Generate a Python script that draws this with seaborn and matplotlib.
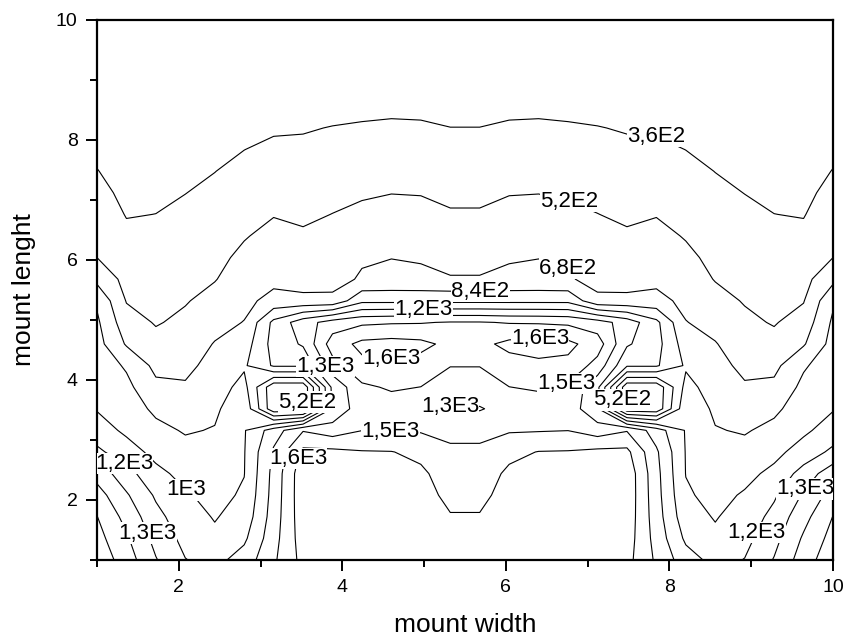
import numpy as np
import matplotlib
matplotlib.use("Agg")
import matplotlib.pyplot as plt
import seaborn as sns
from matplotlib.ticker import MultipleLocator

sns.set_theme(style="ticks")
plt.rcParams['font.family'] = ['Liberation Sans', 'DejaVu Sans']

# measuring grid, step 0.36
x_grid = [1.00, 1.36, 1.72, 2.08, 2.44, 2.80, 3.16, 3.52, 3.88, 4.24, 4.60, 4.96, 5.32,
          5.68, 6.04, 6.40, 6.76, 7.12, 7.48, 7.84, 8.20, 8.56, 8.92, 9.28, 9.64, 10.00]
y_grid = x_grid

# left half of the mount, one list per x column, values from y=1 (bottom) to y=10 (top)
# the right half is the mirror image
z_x100 = [1750, 1697, 1644, 1549, 1419, 1195, 1070, 990, 959, 928, 898, 867, 816,
          638, 520, 481, 443, 404, 365, 327, 290, 252, 214, 176, 138, 100]
z_x136 = [1560, 1502, 1427, 1339, 1223, 1067, 971, 926, 880, 821, 664, 584, 512,
          472, 431, 390, 353, 325, 297, 269, 241, 212, 184, 156, 128, 100]
z_x172 = [1330, 1269, 1208, 1138, 1039, 956, 884, 806, 717, 638, 566, 509, 480,
          450, 420, 391, 361, 332, 303, 274, 245, 216, 187, 158, 129, 100]
z_x208 = [1165, 1112, 1064, 1016, 956, 891, 826, 761, 696, 645, 598, 551, 510,
          480, 449, 419, 389, 358, 326, 294, 261, 229, 197, 165, 132, 100]
z_x244 = [1110, 1030, 990, 955, 920, 884, 849, 810, 769, 728, 688, 630, 568,
          513, 482, 451, 420, 389, 358, 321, 284, 247, 211, 174, 137, 100]
z_x280 = [1230, 1130, 1060, 1020, 996, 992, 988, 960, 890, 820, 760, 685, 640,
          595, 553, 510, 472, 435, 397, 359, 316, 273, 229, 186, 143, 100]
z_x316 = [1454, 1420, 1395, 1380, 1370, 1345, 1240, 400, 400, 1020, 1060, 1040, 730,
          640, 612, 562, 513, 471, 429, 387, 343, 294, 246, 197, 149, 100]
z_x352 = [1690, 1720, 1740, 1750, 1750, 1680, 1470, 400, 400, 1020, 1180, 1250, 720,
          615, 580, 538, 496, 460, 424, 388, 349, 299, 249, 200, 150, 100]
z_x388 = [1720, 1720, 1730, 1730, 1720, 1680, 1400, 1180, 1200, 1420, 1560, 1390, 720,
          620, 600, 565, 522, 483, 444, 405, 365, 314, 260, 207, 153, 100]
z_x424 = [1740, 1750, 1750, 1750, 1740, 1650, 1478, 1420, 1450, 1600, 1680, 1450, 960,
          700, 660, 606, 552, 502, 460, 418, 375, 324, 268, 212, 156, 100]
z_x460 = [1750, 1750, 1750, 1750, 1740, 1645, 1470, 1400, 1500, 1610, 1700, 1465, 960,
          710, 678, 625, 571, 517, 472, 428, 382, 331, 273, 216, 158, 100]
z_x496 = [1730, 1730, 1720, 1700, 1670, 1600, 1465, 1370, 1478, 1580, 1680, 1470, 960,
          705, 670, 617, 564, 513, 468, 423, 379, 327, 270, 213, 157, 100]
z_x532 = [1700, 1680, 1650, 1600, 1560, 1520, 1420, 1310, 1400, 1485, 1600, 1490, 960,
          690, 635, 584, 533, 489, 446, 404, 362, 310, 258, 205, 153, 100]

levels = [360, 520, 680, 840, 1000, 1160, 1320, 1480, 1640]
level_text = ['3,6E2', '5,2E2', '6,8E2', '8,4E2', '1E3', '1,2E3', '1,3E3', '1,5E3', '1,6E3']

# where the level labels sit
label_spots = [(7.85, 8.08), (6.77, 6.97), (6.77, 5.88), (5.69, 5.47), (4.99, 5.19),
               (6.42, 4.72), (3.85, 4.28), (4.61, 4.30), (6.73, 4.0), (3.55, 3.63),
               (7.42, 3.67), (4.59, 3.30), (5.32, 3.55), (3.53, 2.67), (1.38, 2.72),
               (2.08, 2.15), (1.62, 1.45), (9.68, 2.17), (9.12, 1.42)]

left_half = np.array([z_x100, z_x136, z_x172, z_x208, z_x244, z_x280, z_x316,
                      z_x352, z_x388, z_x424, z_x460, z_x496, z_x532], dtype=float)
Z = np.vstack([left_half, left_half[::-1]]).T   # rows = y, cols = x
X, Y = np.meshgrid(x_grid, y_grid)

fig = plt.figure(figsize=(8.47, 6.41), dpi=100)
ax = fig.add_axes([0.1145, 0.1264, 0.869, 0.8424])

cs = ax.contour(X, Y, Z, levels=levels, colors='black', linewidths=0.8)
fmt = dict(zip(levels, level_text))
labels = ax.clabel(cs, inline=False, fmt=fmt, fontsize=16, manual=label_spots)
for t in labels:
    t.set_rotation(0)
    t.set_bbox(dict(facecolor='white', edgecolor='none', pad=0.2))

ax.set_xlim(1, 10)
ax.set_ylim(1, 10)
ax.xaxis.set_major_locator(MultipleLocator(2))
ax.xaxis.set_minor_locator(MultipleLocator(1))
ax.yaxis.set_major_locator(MultipleLocator(2))
ax.yaxis.set_minor_locator(MultipleLocator(1))
ax.tick_params(which='major', direction='out', length=8, width=1.4, labelsize=14,
               color='black', labelcolor='black', pad=6)
ax.tick_params(which='minor', direction='out', length=5, width=1.4, color='black')
ax.tick_params(top=False, right=False, which='both')
for side in ['left', 'bottom', 'right', 'top']:
    ax.spines[side].set_color('black')
    ax.spines[side].set_linewidth(1.6)

ax.set_xlabel('mount width', fontsize=19, labelpad=12, color='black')
ax.set_ylabel('mount lenght', fontsize=19, labelpad=14, color='black')
ax.set_facecolor('white')
fig.patch.set_facecolor('white')

fig.savefig('out.png', dpi=100)
